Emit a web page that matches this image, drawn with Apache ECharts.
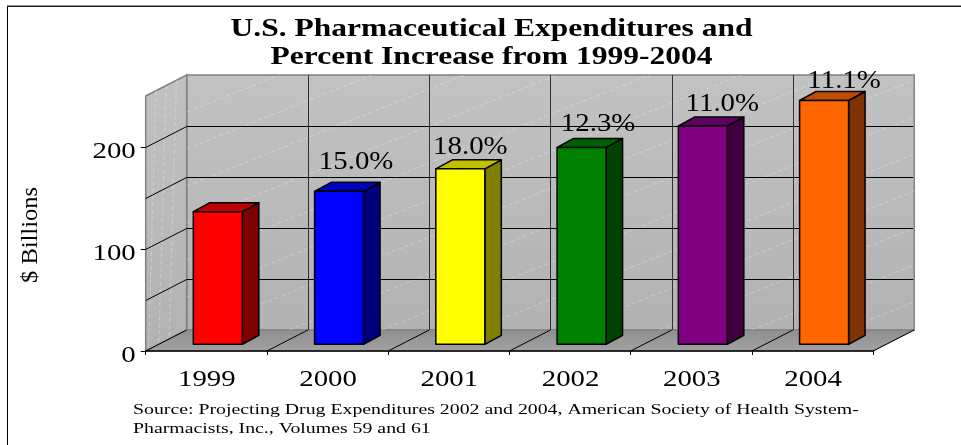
<!DOCTYPE html>
<html><head><meta charset="utf-8">
<style>html,body{margin:0;padding:0;background:#fff}#c{width:961px;height:445px}</style>
<script src="https://cdn.jsdelivr.net/npm/echarts@6/dist/echarts.min.js"></script>
</head><body><div id="c"></div>
<script>
const categories = ['1999','2000','2001','2002','2003','2004'];
const expenditures = [130, 150, 172, 193, 214, 239];
const growthLabels = ['', '15.0%', '18.0%', '12.3%', '11.0%', '11.1%'];
const yTickLabels = [0, 100, 200];
const titleLines = ['U.S. Pharmaceutical Expenditures and', 'Percent Increase from 1999-2004'];
const sourceLines = ['Source: Projecting Drug Expenditures 2002 and 2004, American Society of Health System-', 'Pharmacists, Inc., Volumes 59 and 61'];
const yAxisTitle = '$ Billions';

const frontColors = ['#ff0000','#0000ff','#ffff00','#008000','#800080','#ff6600'];
const topColors   = ['#bf0000','#0000bf','#bfbf00','#006000','#600060','#bf4c00'];
const sideColors  = ['#7f0000','#00007f','#7f7f00','#004000','#400040','#7f3300'];
const labelNudgeX = [0, 17, 10, 16.5, 19.5, 20];
const labelNudgeY = [0, -29, -22, -23, -22, -19];

const SERIF = '"Liberation Serif","Times New Roman",serif';
const WALL_DX = 41, WALL_DY = -21;
const BAR_SHIFT_X = 11.5, BAR_SHIFT_Y = -6.7, BAR_HALF = 24.5, BAR_DX = 16.5, BAR_DY = -9;

function stretchedText(x, y, text, font, scaleX, extra) {
  return Object.assign({
    type: 'text', x, y, scaleX,
    style: { x: 0, y: 0, text, align: 'center', verticalAlign: 'middle',
             font: font + ' ' + SERIF, fill: '#000' }
  }, extra || {});
}

function renderWalls(params, api) {
  const band = api.size([1, 0])[0];
  const x0 = api.coord([0, 0])[0] - band / 2;
  const x1 = api.coord([categories.length - 1, 0])[0] + band / 2;
  const yB = api.coord([0, 0])[1], yT = api.coord([0, 250])[1];
  const d = WALL_DX, h = WALL_DY;
  const wallFill = { type:'linear', x:0, y:0, x2:0, y2:1,
    colorStops:[{offset:0,color:'#c2c2c2'},{offset:1,color:'#b2b2b2'}] };
  const floorFill = { type:'linear', x:0, y:0, x2:0, y2:1,
    colorStops:[{offset:0,color:'#8e8e8e'},{offset:1,color:'#a2a2a2'}] };
  const kids = [];
  kids.push({ type:'polygon', shape:{points:[[x0+d,yT+h],[x1+d,yT+h],[x1+d,yB+h],[x0+d,yB+h]]},
    style:{fill:wallFill, stroke:'#808080', lineWidth:1.5} });
  kids.push({ type:'polygon', shape:{points:[[x0,yT],[x0+d,yT+h],[x0+d,yB+h],[x0,yB]]},
    style:{fill:wallFill, stroke:'#808080', lineWidth:1.5} });
  kids.push({ type:'polygon', shape:{points:[[x0,yB],[x1,yB],[x1+d,yB+h],[x0+d,yB+h]]},
    style:{fill:floorFill, stroke:'#808080', lineWidth:1} });
  const dash = { stroke:'rgba(255,255,255,0.38)', lineWidth:0.8, lineDash:[4,3], fill:null };
  const L = x0+d, R = x1+d, T = yT+h, B = yB+h, slope = 0.4;
  for (let c = T + 37; c < B + (R-L)*slope; c += 37) {
    let xa = L, ya = c;
    if (ya > B) { xa = L + (ya-B)/slope; ya = B; }
    let xb = L + (c-T)/slope, yb = T;
    if (xb > R) { xb = R; yb = c - (R-L)*slope; }
    if (xa < R) kids.push({ type:'line', shape:{x1:xa,y1:ya,x2:xb,y2:yb}, style:dash });
  }
  for (let t = 0.25; t < 1; t += 0.25) {
    const xt = x0 + d*t, xb2 = x0 + d*(t-0.18);
    kids.push({ type:'line', shape:{x1:xt, y1:yT+h*t, x2:xb2, y2:yB+h*(t-0.18)}, style:dash });
  }
  [50,100,150,200].forEach(v => {
    const y = Math.round(api.coord([0,v])[1]) + 0.5;
    kids.push({ type:'polyline', shape:{points:[[x0,y],[x0+d,y+h],[x1+d-1,y+h]]},
      style:{stroke:'#000', lineWidth:1, fill:null} });
  });
  for (let i = 1; i < categories.length; i++) {
    const x = Math.round(x0 + band*i + d) + 0.5;
    kids.push({ type:'line', shape:{x1:x,y1:T,x2:x,y2:B}, style:{stroke:'#303030',lineWidth:1} });
  }
  for (let i = 0; i <= categories.length; i++) {
    const x = x0 + band*i;
    kids.push({ type:'line', shape:{x1:x,y1:yB,x2:x+d,y2:B}, style:{stroke:'#000',lineWidth:1} });
  }
  return { type:'group', children:kids };
}

function renderBar(params, api) {
  const i = api.value(0), v = api.value(1);
  const p = api.coord([i, v]), base = api.coord([i, 0]);
  const cx = p[0] + BAR_SHIFT_X;
  const l = cx - BAR_HALF, r = cx + BAR_HALF;
  const t = p[1] + BAR_SHIFT_Y, b = base[1] + BAR_SHIFT_Y;
  const line = { stroke:'#000', lineWidth:1.5, lineJoin:'round' };
  const kids = [
    { type:'polygon', shape:{points:[[r,t],[r+BAR_DX,t+BAR_DY],[r+BAR_DX,b+BAR_DY],[r,b]]},
      style:Object.assign({fill:sideColors[i]}, line) },
    { type:'polygon', shape:{points:[[l,t],[l+BAR_DX,t+BAR_DY],[r+BAR_DX,t+BAR_DY],[r,t]]},
      style:Object.assign({fill:topColors[i]}, line) },
    { type:'rect', shape:{x:l,y:t,width:r-l,height:b-t},
      style:Object.assign({fill:frontColors[i]}, line) },
  ];
  if (growthLabels[i]) {
    kids.push(stretchedText(cx + labelNudgeX[i], t + labelNudgeY[i], growthLabels[i], '26px', 1.11));
  }
  kids.push(stretchedText(base[0] + 0.5, base[1] + 28.5, categories[i], '24px', 1.2));
  return { type:'group', children:kids };
}

function renderYLabel(params, api) {
  const band = api.size([1, 0])[0];
  const p = api.coord([0, api.value(0)]);
  const t = stretchedText(p[0] - band/2 - 10, p[1] + 4.5, String(api.value(0)), '24px', 1.2);
  t.style.align = 'right';
  return t;
}

const chart = echarts.init(document.getElementById('c'), null, {renderer:'canvas'});
chart.setOption({
  animation:false,
  backgroundColor:'#fff',
  grid:{ left:145.7, right:961-873.2, top:96, bottom:445-351, containLabel:false },
  xAxis:{ type:'category', data:categories, z:5,
    axisLine:{lineStyle:{color:'#000',width:1.5}},
    axisTick:{show:true,alignWithLabel:false,length:4,lineStyle:{color:'#000',width:1}},
    axisLabel:{show:false}, splitLine:{show:false} },
  yAxis:{ type:'value', min:0, max:250, interval:50, z:5,
    axisLine:{show:false},
    axisTick:{show:true,length:5,customValues:yTickLabels,lineStyle:{color:'#000',width:1}},
    axisLabel:{show:false}, splitLine:{show:false} },
  graphic:[
    { type:'rect', shape:{x:7,y:6,width:1,height:439}, style:{fill:'#000'} },
    { type:'rect', shape:{x:7,y:5.5,width:954,height:1.5}, style:{fill:'#222'} },
    stretchedText(491.5, 30, titleLines[0], 'bold 25px', 1.26),
    stretchedText(491.5, 58, titleLines[1], 'bold 25px', 1.26),
    stretchedText(31, 235, yAxisTitle, '24px', 1.02, {rotation:Math.PI/2}),
    { type:'text', x:133, y:410, scaleX:1.32, style:{x:0,y:0,text:sourceLines[0],align:'left',verticalAlign:'middle',font:'15px '+SERIF,fill:'#000'} },
    { type:'text', x:133, y:429, scaleX:1.32, style:{x:0,y:0,text:sourceLines[1],align:'left',verticalAlign:'middle',font:'15px '+SERIF,fill:'#000'} },
  ],
  series:[
    { type:'custom', z:1, clip:false, silent:true, renderItem:renderWalls, encode:{x:0,y:1}, data:[[0,0]] },
    { type:'custom', z:2, clip:false, silent:true, renderItem:renderBar, encode:{x:0,y:1},
      data:expenditures.map((v,i)=>[i,v]) },
    { type:'custom', z:3, clip:false, silent:true, renderItem:renderYLabel, encode:{x:1,y:0},
      data:yTickLabels.map(v=>[v,0]) },
  ],
});
</script></body></html>
